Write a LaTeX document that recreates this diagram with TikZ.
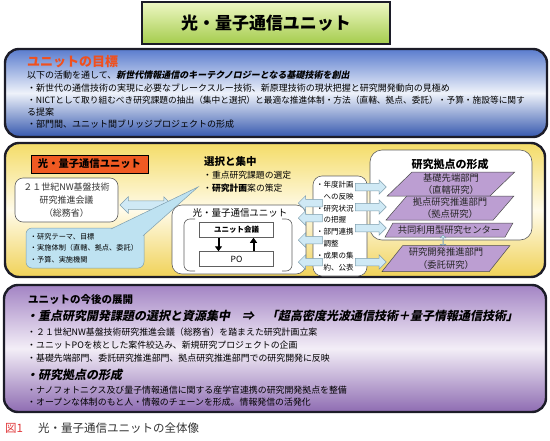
\documentclass[tikz,border=0pt]{standalone}
\usepackage{fontspec}
\setmainfont{Noto Sans CJK JP}
\newfontfamily\jpsl{Noto Sans CJK JP}[FakeSlant=0.2]
\usepackage{xcolor}
\usepackage{tikz}
\usetikzlibrary{shapes.geometric,shapes.arrows,arrows.meta}

\definecolor{panelline}{HTML}{1C1C28}
\definecolor{titletop}{HTML}{EEF7C4}
\definecolor{titlebot}{HTML}{A4CC4C}
\definecolor{goaltop}{HTML}{5A7CCE}
\definecolor{goalmid}{HTML}{EEF2FA}
\definecolor{goalbot}{HTML}{3658AE}
\definecolor{goalred}{HTML}{F0501E}
\definecolor{unittop}{HTML}{F4DC68}
\definecolor{unitmid}{HTML}{FFFBEA}
\definecolor{unitbot}{HTML}{F0D258}
\definecolor{labelred}{HTML}{F05A22}
\definecolor{futuretop}{HTML}{A384C4}
\definecolor{futuremid}{HTML}{F3EEF7}
\definecolor{futurebot}{HTML}{8E6CB2}
\definecolor{deptfill}{HTML}{BC9ED2}
\definecolor{arrowfill}{HTML}{CFE9F5}
\definecolor{arrowline}{HTML}{7E9EAE}
\definecolor{calloutfill}{HTML}{BEE2F1}
\definecolor{capred}{HTML}{E0383A}

\newcommand{\setsz}[2]{\fontsize{#1}{#2}\selectfont}

\begin{document}
\begin{tikzpicture}[x=1pt,y=-1pt]
  \tikzstyle{every node}=[inner sep=0pt]
  \tikzstyle{panel}=[rectangle, rounded corners=14pt, draw=panelline, line width=2.4pt]
  \tikzstyle{txt}=[anchor=west]
  \tikzstyle{roundbox}=[rectangle, rounded corners=8pt, draw=gray!75!black, fill=white, line width=0.6pt, align=center]
  \tikzstyle{plainbox}=[rectangle, draw=gray!75!black, fill=white, line width=0.5pt, minimum width=74pt, minimum height=15pt]
  \tikzstyle{fatarrow}=[single arrow, draw=arrowline, fill=arrowfill, line width=0.5pt, inner xsep=0pt, inner ysep=3.5pt, single arrow head extend=3.5pt, single arrow head indent=0pt]
  \tikzstyle{twoway}=[double arrow, draw=arrowline, fill=arrowfill, line width=0.5pt, inner xsep=0pt]
  \tikzstyle{dept}=[trapezium, trapezium left angle=50, trapezium right angle=130, trapezium stretches=true, draw=gray!60!black, fill=deptfill, line width=0.5pt, minimum width=128pt, align=center, text=black!85, font=\setsz{9.3}{12.5}]
  \tikzstyle{updown}=[line width=2pt, -{Triangle[length=5pt,width=7pt]}]

  \useasboundingbox (0,0) rectangle (550,440);

  \node[rectangle, draw=panelline, line width=2pt, top color=titletop, bottom color=titlebot, minimum width=248pt, minimum height=42pt, font=\bfseries\setsz{17}{17}] (title) at (266,23) {光・量子通信ユニット};

  % unit goal
  \node[panel, top color=goaltop, bottom color=goalbot, middle color=goalmid, minimum width=542pt, minimum height=88pt] (goal) at (276,93) {};
  \node[txt, font=\bfseries\setsz{13}{13}, text=goalred] (goalhead) at (27,62) {ユニットの目標};
  \node[txt, font=\setsz{9}{9}] (goal1) at (27,75) {以下の活動を通して、{\jpsl\bfseries 新世代情報通信のキーテクノロジーとなる基礎技術を創出}};
  \node[txt, font=\setsz{9}{9}] (goal2) at (27,88) {・新世代の通信技術の実現に必要なブレークスルー技術、新原理技術の現状把握と研究開発動向の見極め};
  \node[txt, font=\setsz{8.7}{8.7}] (goal3) at (27,100) {・NICTとして取り組むべき研究課題の抽出（集中と選択）と最適な推進体制・方法（直轄、拠点、委託）・予算・施設等に関す};
  \node[txt, font=\setsz{9}{9}] (goal4) at (27,112) {る提案};
  \node[txt, font=\setsz{9}{9}] (goal5) at (27,124) {・部門間、ユニット間ブリッジプロジェクトの形成};

  % unit structure
  \node[panel, top color=unittop, bottom color=unitbot, middle color=unitmid, minimum width=540pt, minimum height=134pt] (unitpanel) at (275,210) {};
  \node[rectangle, draw=black, line width=0.5pt, fill=labelred, minimum width=117pt, minimum height=18pt, font=\bfseries\setsz{10.3}{10.3}] (unitlabel) at (89.5,164) {光・量子通信ユニット};
  \node[roundbox, minimum width=103pt, minimum height=44pt, text=black!80, font=\setsz{9}{13}] (council) at (66.5,200) {２１世紀NW基盤技術\\研究推進会議\\（総務省）};
  \node[twoway, inner ysep=4pt, minimum height=52pt, double arrow head extend=4pt] (link) at (146,205) {};

  \node[rectangle, rounded corners=6pt, draw=arrowline, fill=calloutfill, line width=0.5pt, minimum width=118pt, minimum height=40pt, text width=110pt, align=left, font=\setsz{7.2}{11.5}] (scope) at (85,248) {・研究テーマ、目標\\・実施体制（直轄、拠点、委託）\\・予算、実施機関};
  \coordinate (aim) at (198,187);
  \coordinate (tailA) at ([xshift=26pt,yshift=-1.2pt]scope.north);
  \coordinate (tailB) at ([xshift=-1.2pt,yshift=-8pt]scope.north east);
  \fill[calloutfill] (tailA) -- (aim) -- (tailB) -- ([xshift=-6pt,yshift=-1.2pt]scope.north east) -- cycle;
  \draw[arrowline, line width=0.5pt] (tailA) -- (aim) -- (tailB);

  \node[txt, font=\bfseries\setsz{10.5}{10.5}] (focus) at (204,162) {選択と集中};
  \node[txt, font=\setsz{8.8}{8.8}] (focus1) at (203,175) {・重点研究課題の選定};
  \node[txt, font=\setsz{8.8}{8.8}] (focus2) at (203,188) {・{\bfseries 研究計画}案の策定};

  \node[roundbox, rounded corners=10pt, minimum width=134pt, minimum height=69pt] (unit) at (239,239.5) {};
  \node[font=\setsz{9.5}{9.5}] (unitname) at (240,213) {光・量子通信ユニット};
  \node[plainbox, font=\bfseries\setsz{7.5}{7.5}] (meeting) at (236.5,230) {ユニット会議};
  \node[plainbox, font=\setsz{8.5}{8.5}] (po) at (236.5,259) {PO};
  \draw[updown] ([xshift=-18pt]meeting.south) -- ([xshift=-18pt]po.north);
  \draw[updown] ([xshift=17pt]po.north) -- ([xshift=17pt]meeting.south);
  \draw[gray!75!black, line width=0.6pt, rounded corners=6pt] (195,219) -- (184,219) -- (184,271) -- (195,271);
  \draw[gray!75!black, line width=0.6pt, rounded corners=6pt] (282,219) -- (292,219) -- (292,271) -- (282,271);

  \node[roundbox, rounded corners=9pt, minimum width=54pt, minimum height=100pt, text width=48pt, align=left, font=\setsz{7.5}{11.8}] (tasks) at (340,226) {・年度計画\\\hspace{1em}への反映\\・研究状況\\\hspace{1em}の把握\\・部門連携\\\hspace{1em}調整\\・成果の集\\\hspace{1em}約、公表};

  \node[roundbox, rounded corners=12pt, minimum width=162pt, minimum height=90pt] (base) at (451,195) {};
  \node[font=\bfseries\setsz{11}{11}] (basehead) at (450,164) {研究拠点の形成};
  \node[dept, minimum height=24pt] (dept1) at (451,184) {基礎先端部門\\（直轄研究）};
  \node[dept, minimum height=24pt] (dept2) at (450,208) {拠点研究推進部門\\（拠点研究）};
  \node[dept, minimum height=14pt] (dept3) at (449,230) {共同利用型研究センター};
  \node[twoway, inner ysep=2pt, minimum height=12pt, double arrow head extend=2.5pt, shape border rotate=90] (share) at (443,241) {};
  \node[dept, minimum height=26pt] (dept4) at (446,258.5) {研究開発推進部門\\（委託研究）};

  \foreach \y in {203,218,240,262}
    \node[fatarrow, shape border rotate=180, minimum height=24pt, anchor=tip] (back\y) at (298,\y) {};
  \foreach \y in {187,207,228,262}
    \node[fatarrow, minimum height=31pt, anchor=tail] (fwd\y) at (355,\y) {};

  % future plan
  \node[panel, top color=futuretop, bottom color=futurebot, middle color=futuremid, minimum width=542pt, minimum height=127pt] (future) at (275,348.5) {};
  \node[txt, font=\bfseries\setsz{10.5}{10.5}] (futurehead) at (28,300) {ユニットの今後の展開};
  \node[txt, font=\jpsl\bfseries\setsz{12}{12}] (future1) at (26,316) {・重点研究開発課題の選択と資源集中　⇒　「超高密度光波通信技術＋量子情報通信技術」};
  \node[txt, font=\setsz{8.9}{8.9}] (future2) at (27,332) {・２１世紀NW基盤技術研究推進会議（総務省）を踏まえた研究計画立案};
  \node[txt, font=\setsz{8.9}{8.9}] (future3) at (27,345) {・ユニットPOを核とした案件絞込み、新規研究プロジェクトの企画};
  \node[txt, font=\setsz{8.9}{8.9}] (future4) at (27,358) {・基礎先端部門、委託研究推進部門、拠点研究推進部門での研究開発に反映};
  \node[txt, font=\jpsl\bfseries\setsz{12}{12}] (future5) at (26,375) {・研究拠点の形成};
  \node[txt, font=\setsz{8.9}{8.9}] (future6) at (27,390) {・ナノフォトニクス及び量子情報通信に関する産学官連携の研究開発拠点を整備};
  \node[txt, font=\setsz{8.9}{8.9}] (future7) at (27,402) {・オープンな体制のもと人・情報のチェーンを形成。情報発信の活発化};

  \node[txt, font=\setsz{11.5}{11.5}, text=capred] (fignum) at (5,428) {図1};
  \node[txt, font=\setsz{11.5}{11.5}, text=black!80] (figtitle) at (38,428) {光・量子通信ユニットの全体像};
\end{tikzpicture}
\end{document}
